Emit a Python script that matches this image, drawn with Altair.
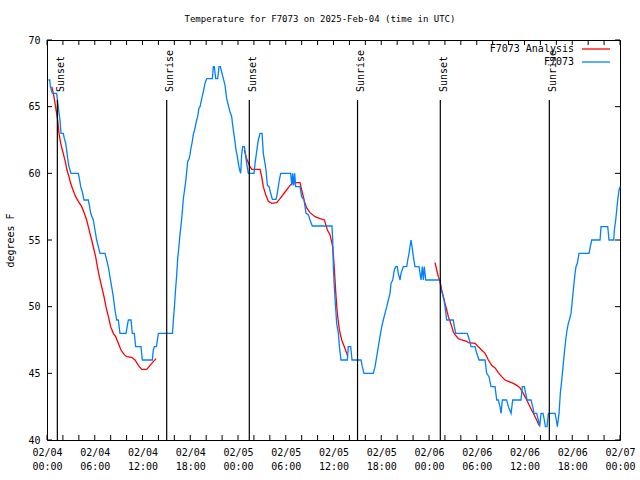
import altair as alt
import pandas as pd

# ---------------- data (hours since 2025-02-04 00:00 UTC, degrees F) ----------------
obs_hours = [0.17, 0.35, 0.42, 0.67, 1.21, 1.42, 1.51, 1.63, 1.76, 2.05, 2.18, 2.35, 2.47, 2.60, 2.76, 3.02,
             3.94, 4.10, 4.23, 4.44, 4.65, 5.19, 5.36, 5.49, 5.82, 6.03, 6.24, 6.45, 6.66, 7.29, 7.50, 7.70,
             7.91, 8.12, 8.33, 8.54, 8.76, 8.96, 9.17, 9.93, 10.22, 10.56, 10.72, 10.97, 11.14, 11.81, 11.98,
             13.23, 13.36, 13.49, 13.74, 14.00, 15.77,
             15.87, 16.00, 16.17, 16.30, 16.42, 16.59, 16.71, 16.84, 17.00, 17.13, 17.25, 17.43, 17.55, 17.68,
             17.84, 17.97, 18.09, 18.26, 18.38, 18.60, 18.81, 18.93, 19.10, 19.23, 19.44, 19.64, 19.85, 20.07,
             20.78, 20.90, 21.02, 21.20, 21.45, 21.61, 21.78, 21.95, 22.16, 22.37, 22.58, 22.79, 23.00, 23.21,
             23.33, 23.50, 23.62, 23.75, 23.92, 24.04, 24.21, 24.34, 24.46, 24.59, 24.80, 24.92, 25.09, 25.30,
             26.01, 26.14, 26.26, 26.43, 26.55, 26.77, 27.02, 27.18, 27.39, 27.52, 27.69, 27.90, 28.11, 28.32,
             28.78, 28.94, 29.19, 29.37, 30.62, 30.75, 30.87, 31.00, 31.12, 31.25, 31.79, 32.00, 32.29, 32.42,
             32.55, 32.84, 33.05, 33.34, 35.81, 35.90, 35.98, 36.10, 36.23, 36.40, 36.61, 36.74, 36.94, 37.74,
             37.86, 38.16, 38.33, 39.46, 39.62, 39.83,
             41.00, 41.22, 41.43, 41.63, 41.84, 42.06, 42.26, 42.47, 42.69, 42.89, 43.10, 43.23, 43.44, 43.64,
             43.82, 44.02, 44.14, 44.36, 44.48, 44.77, 45.20, 45.33, 45.49, 45.61, 45.74, 45.87, 46.03, 46.24,
             46.75, 46.87, 47.00, 47.16, 47.29, 47.41, 47.59, 49.39, 49.51, 49.67, 49.89, 50.01, 50.22, 51.05,
             51.18, 51.36, 52.82, 53.07, 53.28, 53.78, 54.00, 54.29, 55.04, 55.25, 55.54, 55.79, 56.30, 56.51,
             56.71, 56.92, 57.05, 57.22, 57.76, 57.97, 58.31, 58.52, 59.56, 59.73, 59.98, 60.15, 60.32, 60.82,
             61.03, 61.20, 61.53, 61.74, 61.91, 62.08, 62.33, 62.49, 62.62, 62.83, 63.00, 63.84, 64.00, 64.13,
             64.34, 64.50, 64.68, 64.84, 65.00, 65.18, 65.34, 65.51, 65.63, 65.85, 66.01, 66.18, 66.35, 66.47,
             66.64, 66.85, 68.11, 68.27, 68.45, 69.49, 69.62, 70.46, 70.62, 71.21, 71.29, 71.46, 71.59, 71.71,
             71.88, 72.00]
obs_temps = [67.0, 67.0, 66.5, 66.0, 66.0, 65.0, 64.5, 64.0, 63.0, 63.0, 62.6, 62.25, 61.75, 61.1, 60.5, 60.0,
             60.0, 59.5, 59.0, 58.6, 58.0, 58.0, 57.5, 57.0, 56.5, 55.75, 55.0, 54.5, 54.0, 54.0, 53.5, 53.0,
             52.25, 51.5, 50.75, 49.75, 49.0, 49.0, 48.0, 48.0, 49.0, 49.0, 48.0, 48.0, 47.0, 47.0, 46.0,
             46.0, 46.75, 47.0, 47.0, 48.0, 48.0,
             48.9, 49.9, 51.4, 52.4, 53.6, 54.6, 55.4, 56.1, 57.1, 58.1, 58.6, 59.4, 60.1, 60.9,
             61.05, 61.4, 61.9, 62.4, 62.9, 63.4, 64.0, 64.25, 64.9, 65.0, 65.6, 66.1, 66.75, 67.1,
             67.1, 68.0, 68.0, 67.1, 67.1, 68.0, 68.0, 67.6, 67.1, 66.6, 65.6, 65.1, 64.6, 64.25,
             63.6, 62.9, 62.4, 61.75, 61.25, 60.75, 60.25, 60.0, 61.4, 62.0, 62.0, 61.5, 60.75, 60.0,
             60.0, 60.75, 61.25, 62.0, 62.5, 63.0, 63.0, 61.5, 60.75, 60.25, 59.1, 59.0, 58.5, 58.05,
             58.05, 58.5, 59.5, 60.0, 60.0, 59.1, 60.0, 59.1, 60.0, 59.0, 59.0, 58.25, 58.0, 57.5,
             57.0, 56.9, 56.5, 56.05, 56.05, 55.0, 53.0, 51.5, 50.25, 48.75, 48.0, 47.0, 46.0, 46.0,
             47.0, 47.0, 46.0, 46.0, 45.5, 45.0,
             45.0, 45.5, 46.25, 47.0, 47.75, 48.5, 49.0, 49.5, 50.0, 50.5, 51.0, 51.75, 52.0, 52.75,
             53.0, 53.0, 52.5, 52.0, 52.5, 53.0, 53.0, 53.5, 54.0, 54.5, 55.0, 54.5, 53.75, 53.0,
             53.0, 52.5, 52.0, 53.0, 52.0, 53.0, 52.0, 52.0, 51.25, 51.0, 50.5, 50.0, 49.0, 49.0,
             48.5, 48.0, 48.0, 47.5, 47.0, 47.0, 46.5, 46.0, 46.0, 45.0, 44.75, 44.0, 44.0, 43.0,
             43.0, 42.5, 42.0, 43.0, 43.0, 42.5, 42.0, 43.0, 43.0, 44.0, 44.0, 43.5, 43.0, 43.0,
             42.5, 42.0, 42.0, 41.5, 41.0, 42.0, 42.0, 41.5, 41.0, 41.0, 42.0, 42.0, 41.5, 41.0,
             42.0, 43.5, 44.5, 45.5, 46.5, 47.5, 48.25, 48.75, 49.0, 49.5, 50.5, 51.5, 52.5, 53.0,
             53.25, 54.0, 54.0, 54.5, 55.0, 55.0, 56.0, 56.0, 55.0, 55.0, 55.75, 56.5, 57.25, 58.0,
             58.75, 59.0]

ana1_hours = [0.59, 0.80, 1.01, 1.21, 1.34, 1.51, 1.72, 1.93, 2.14, 2.35, 2.51, 2.76, 2.97, 3.18, 3.43, 3.60,
              3.94, 4.36, 4.69, 4.98, 5.19, 5.40, 5.61, 5.91, 6.11, 6.33, 6.58, 6.87, 7.16, 7.41, 7.71, 8.00,
              8.33, 8.63, 8.96, 9.30, 9.71, 10.01, 10.64, 11.06, 11.48, 11.90, 12.53, 13.16, 13.70]
ana1_temps = [66.5, 66.0, 65.25, 64.5, 64.0, 63.0, 62.25, 61.75, 61.25, 60.75, 60.25, 59.75, 59.25, 58.9, 58.5,
              58.25, 57.9, 57.5, 57.0, 56.5, 56.0, 55.5, 55.0, 54.25, 53.75, 53.0, 52.25, 51.5, 50.75, 50.0,
              49.25, 48.5, 48.0, 47.75, 47.25, 46.75, 46.4, 46.25, 46.2, 46.0, 45.6, 45.3, 45.3, 45.75, 46.1]
ana2_hours = [24.80, 25.09, 25.42, 25.72, 26.77, 26.98, 27.18, 27.48, 27.81, 28.24, 28.86, 29.28, 29.91, 30.54,
              30.95, 31.79, 32.00, 32.21, 32.42, 32.63, 33.05, 33.68, 34.31, 34.85, 35.06, 35.23, 35.56, 35.90,
              36.06, 36.19, 36.32, 36.48, 36.74, 37.03, 37.36, 37.66, 37.79]
ana2_temps = [61.75, 61.1, 60.6, 60.3, 60.3, 59.75, 59.0, 58.4, 57.9, 57.75, 57.8, 58.1, 58.6, 59.1,
              59.3, 59.3, 58.75, 58.25, 57.75, 57.4, 57.05, 56.75, 56.6, 56.5, 56.1, 55.75, 55.4, 54.5,
              53.25, 52.0, 50.75, 49.5, 48.25, 47.5, 47.0, 46.5, 46.25]
ana3_hours = [48.76, 48.97, 49.17, 49.38, 49.60, 49.80, 50.01, 50.23, 50.43, 50.64, 50.86, 51.06, 51.27, 51.69,
              52.11, 52.74, 52.94, 53.78, 54.20, 54.62, 55.04, 55.46, 55.88, 56.30, 56.71, 57.14, 57.55, 57.97,
              58.60, 59.02, 59.44, 59.85, 60.28, 60.69, 61.11, 61.53, 61.82]
ana3_temps = [53.3, 52.75, 52.25, 51.9, 51.25, 50.75, 50.25, 49.75, 49.25, 48.9, 48.5, 48.1, 47.9, 47.6,
              47.5, 47.4, 47.3, 47.25, 47.0, 46.75, 46.5, 46.0, 45.6, 45.4, 45.05, 44.75, 44.5, 44.4,
              44.25, 44.1, 43.9, 43.5, 43.0, 42.5, 42.0, 41.5, 41.1]

sun_hours = [1.30, 15.04, 25.42, 39.02, 49.42, 63.12]
sun_labels = ["Sunset", "Sunrise", "Sunset", "Sunrise", "Sunset", "Sunrise"]

x_label_hours = list(range(0, 73, 6))
x_tick_hours = list(range(0, 73, 2))
y_ticks = [40, 45, 50, 55, 60, 65, 70]

title_text = "Temperature for F7073 on 2025-Feb-04 (time in UTC)"
y_title = "degrees F"
legend_names = ["F7073 Analysis", "F7073"]
legend_colors = ["#ff0000", "#0080ff"]

FONT = "DejaVu Sans Mono"
W, H = 573, 400

# ---------------- tables ----------------
obs_df = pd.DataFrame({"h": obs_hours, "t": obs_temps})
ana_df = pd.concat([
    pd.DataFrame({"h": ana1_hours, "t": ana1_temps, "seg": 1}),
    pd.DataFrame({"h": ana2_hours, "t": ana2_temps, "seg": 2}),
    pd.DataFrame({"h": ana3_hours, "t": ana3_temps, "seg": 3}),
], ignore_index=True)
sun_df = pd.DataFrame({"h": sun_hours, "label": sun_labels})
xt_df = pd.DataFrame({"h": x_tick_hours})
yt_df = pd.DataFrame({"t": y_ticks})
one = pd.DataFrame({"k": [0]})

label_expr = ("['02/0' + (4 + floor(datum.value / 24)), "
              "(datum.value % 24 < 10 ? '0' : '') + (datum.value % 24) + ':00']")

X = alt.X("h:Q", scale=alt.Scale(domain=[0, 72], nice=False, zero=False),
          axis=alt.Axis(values=x_label_hours, labelExpr=label_expr, labelPadding=7,
                        labelLineHeight=14, labelFlush=False, labelOverlap=False,
                        title=None))
Y = alt.Y("t:Q", scale=alt.Scale(domain=[40, 70], nice=False, zero=False),
          axis=alt.Axis(values=y_ticks, labelPadding=7, title=y_title,
                        titleX=-37, titleY=200, titleAngle=270,
                        titleBaseline="middle", titleAlign="center"))

ana = alt.Chart(ana_df).mark_line(color=legend_colors[0], strokeWidth=1.3).encode(
    x=X, y=Y, detail="seg:N", order="h:Q")
obs = alt.Chart(obs_df).mark_line(color=legend_colors[1], strokeWidth=1.3).encode(
    x=X, y=Y, order="h:Q")

sun_rules = alt.Chart(sun_df).mark_rule(color="black", strokeWidth=1.2).encode(
    x=X, y=alt.value(60), y2=alt.value(H))
sun_text = alt.Chart(sun_df).mark_text(
    angle=270, align="left", baseline="alphabetic", dy=6.5, font=FONT, fontSize=10, color="black"
).encode(x=X, y=alt.value(52), text="label:N")

tick_style = dict(color="black", strokeWidth=1)
xt_bottom = alt.Chart(xt_df).mark_rule(**tick_style).encode(x=X, y=alt.value(H), y2=alt.value(H - 5))
xt_top = alt.Chart(xt_df).mark_rule(**tick_style).encode(x=X, y=alt.value(0), y2=alt.value(5))
yt_left = alt.Chart(yt_df).mark_rule(**tick_style).encode(y=Y, x=alt.value(0), x2=alt.value(5))
yt_right = alt.Chart(yt_df).mark_rule(**tick_style).encode(y=Y, x=alt.value(W), x2=alt.value(W - 5))

title = alt.Chart(one).mark_text(font=FONT, fontSize=9, color="black", baseline="middle").encode(
    x=alt.value(273), y=alt.value(-21), text=alt.value(title_text))

leg_layers = []
for i, (name, col) in enumerate(zip(legend_names, legend_colors)):
    yy = 9 + 13 * i
    leg_layers.append(alt.Chart(one).mark_text(font=FONT, fontSize=10, color="black",
                                               align="right", baseline="middle").encode(
        x=alt.value(527), y=alt.value(yy), text=alt.value(name)))
    leg_layers.append(alt.Chart(one).mark_rule(color=col, strokeWidth=1.3).encode(
        x=alt.value(535), x2=alt.value(563), y=alt.value(yy)))

chart = alt.layer(
    ana, obs, sun_rules, sun_text, xt_bottom, xt_top, yt_left, yt_right, title, *leg_layers
).properties(
    width=W, height=H,
    autosize=alt.AutoSizeParams(type="none"),
    padding={"left": 47, "top": 40, "right": 20, "bottom": 40},
    background="white",
).configure_view(
    stroke="black", strokeWidth=1
).configure_axis(
    labelFont=FONT, labelFontSize=10, labelColor="black",
    titleFont=FONT, titleFontSize=10, titleFontWeight="normal", titleColor="black",
    grid=False, domain=False, ticks=False,
)

chart.save("out.html", embed_options={"renderer": "svg", "actions": False})
